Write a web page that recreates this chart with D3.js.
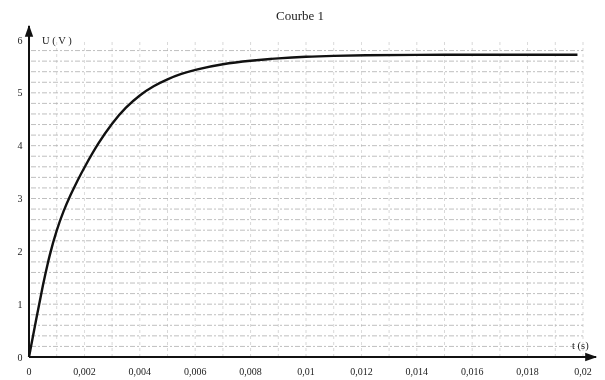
<!DOCTYPE html>
<html><head><meta charset="utf-8">
<script src="https://cdn.jsdelivr.net/npm/d3@7"></script>
<style>body{margin:0;background:#fff}svg{display:block}text{font-family:"Liberation Serif","DejaVu Serif",serif;fill:#222}</style>
</head><body>
<svg id="c" width="605" height="380"></svg>
<script>
const tValues = [0, 0.00025, 0.0005, 0.00075, 0.001, 0.00125, 0.0015, 0.00175, 0.002, 0.0025, 0.003, 0.0035, 0.004, 0.0045, 0.005, 0.0055, 0.006, 0.007, 0.008, 0.009, 0.010, 0.011, 0.012, 0.014, 0.016, 0.018, 0.0198];
const uValues = [0, 0.69, 1.36, 1.95, 2.41, 2.77, 3.07, 3.34, 3.59, 4.05, 4.43, 4.73, 4.96, 5.13, 5.26, 5.36, 5.44, 5.55, 5.61, 5.655, 5.685, 5.70, 5.71, 5.72, 5.72, 5.72, 5.72];
const xTicks = [0, 0.002, 0.004, 0.006, 0.008, 0.01, 0.012, 0.014, 0.016, 0.018, 0.02];
const xTickLabels = ["0", "0,002", "0,004", "0,006", "0,008", "0,01", "0,012", "0,014", "0,016", "0,018", "0,02"];
const yTicks = [0, 1, 2, 3, 4, 5, 6];
const title = "Courbe 1";
const yLabel = "U ( V )";
const xLabel = "t (s)";

const svg = d3.select("#c");
const x = d3.scaleLinear().domain([0, 0.02]).range([29, 583]);
const y = d3.scaleLinear().domain([0, 6]).range([357, 40]);

// grid
const g = svg.append("g").attr("stroke", "#9a9a9a").attr("stroke-width", 0.8).attr("stroke-dasharray", "5,2,2,2").attr("opacity", 0.8);
const hLines = d3.range(1, 30).map(i => i * 0.2);
g.selectAll(".h").data(hLines).join("line")
  .attr("x1", x(0) + 2).attr("x2", x(0.02)).attr("y1", d => y(d)).attr("y2", d => y(d));
const vLines = d3.range(1, 21).map(i => i * 0.001);
g.selectAll(".v").data(vLines).join("line")
  .attr("x1", d => x(d)).attr("x2", d => x(d)).attr("y1", y(0)).attr("y2", y(6) + 2)
  .attr("stroke-dasharray", "3,3").attr("opacity", 0.6);

// axes
const defs = svg.append("defs");
defs.append("marker").attr("id", "arr").attr("viewBox", "0 0 10 10").attr("refX", 9).attr("refY", 5)
  .attr("markerWidth", 7).attr("markerHeight", 6).attr("orient", "auto")
  .append("path").attr("d", "M0,1.5 L10,5 L0,8.5 Z").attr("fill", "#111");
svg.append("line").attr("x1", x(0)).attr("x2", 596).attr("y1", y(0)).attr("y2", y(0))
  .attr("stroke", "#111").attr("stroke-width", 2).attr("marker-end", "url(#arr)");
svg.append("line").attr("x1", x(0)).attr("x2", x(0)).attr("y1", y(0)).attr("y2", 26)
  .attr("stroke", "#111").attr("stroke-width", 2).attr("marker-end", "url(#arr)");

// tick labels
svg.selectAll(".xt").data(xTicks).join("text")
  .attr("x", d => x(d)).attr("y", 375).attr("text-anchor", "middle").attr("font-size", 10)
  .text((d, i) => xTickLabels[i]);
svg.selectAll(".yt").data(yTicks).join("text")
  .attr("x", 20).attr("y", d => y(d) + 3.5).attr("text-anchor", "middle").attr("font-size", 10)
  .text(d => d);

svg.append("text").attr("x", 300).attr("y", 20).attr("text-anchor", "middle").attr("font-size", 13).text(title);
svg.append("text").attr("x", 42).attr("y", 44).attr("font-size", 10.5).text(yLabel);
svg.append("text").attr("x", 572).attr("y", 349).attr("font-size", 10.5).text(xLabel);

// curve
const data = tValues.map((t, i) => [t, uValues[i]]);
svg.append("path").datum(data)
  .attr("d", d3.line().x(d => x(d[0])).y(d => y(d[1])).curve(d3.curveBasis))
  .attr("fill", "none").attr("stroke", "#111").attr("stroke-width", 2.4);
</script>
</body></html>
